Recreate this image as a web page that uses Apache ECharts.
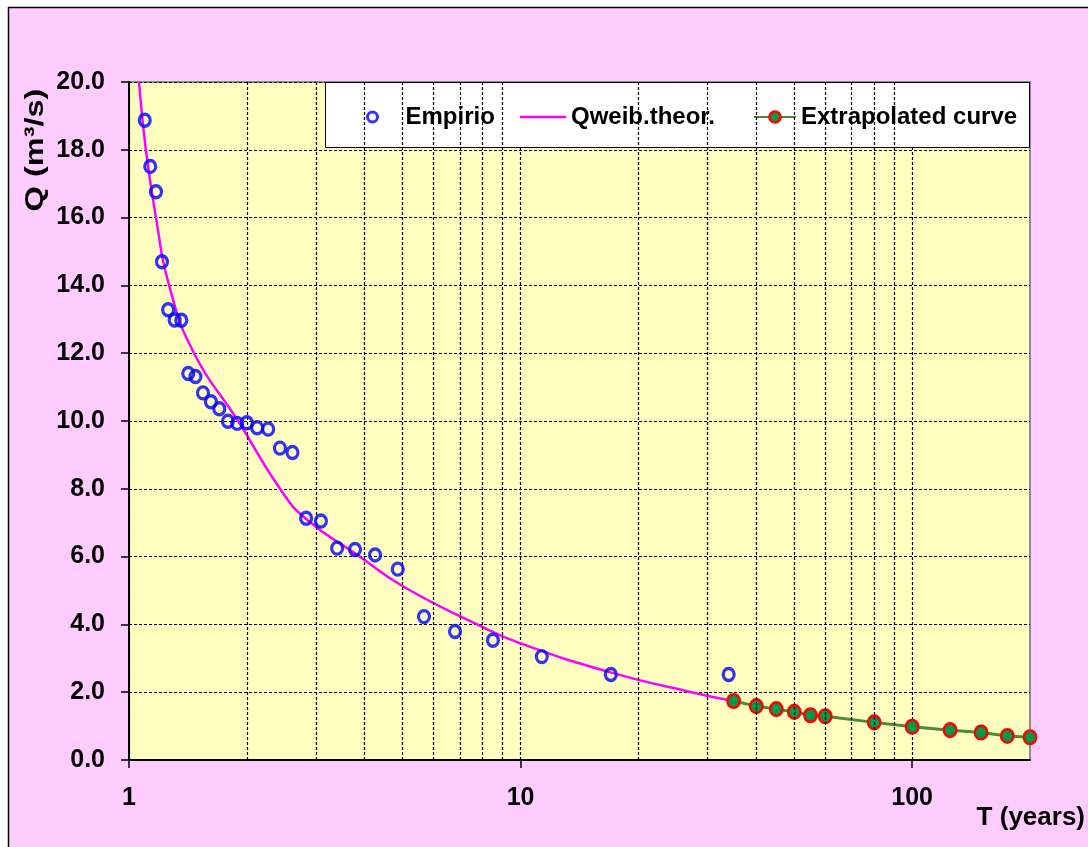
<!DOCTYPE html>
<html>
<head>
<meta charset="utf-8">
<script src="https://cdn.jsdelivr.net/npm/echarts@6/dist/echarts.min.js"></script>
<style>
  html, body { margin: 0; padding: 0; background: #ffffff; }
  #chart { width: 1088px; height: 847px; }
</style>
</head>
<body>
<div id="chart"></div>
<script>
// Empirical return periods (years) and discharges (m3/s)
const empiricalT = [1.097, 1.133, 1.172, 1.214, 1.259, 1.308, 1.36, 1.417, 1.478, 1.545,
                    1.619, 1.7, 1.789, 1.889, 2.0, 2.125, 2.267, 2.429, 2.615, 2.833,
                    3.091, 3.4, 3.778, 4.25, 4.857, 5.667, 6.8, 8.5, 11.33, 17, 34];
const empiricalQ = [18.87, 17.51, 16.76, 14.70, 13.28, 12.98, 12.97, 11.40, 11.31, 10.83,
                    10.57, 10.36, 9.99, 9.93, 9.95, 9.80, 9.76, 9.20, 9.07, 7.13,
                    7.05, 6.25, 6.21, 6.05, 5.63, 4.23, 3.79, 3.53, 3.05, 2.52, 2.52];

// Theoretical Weibull curve
const weibullT = [1.061, 1.103, 1.172, 1.266, 1.466, 1.90, 2.43, 2.84, 3.85,
                  5.03, 7.75, 10, 16.8, 27.3, 35];
const weibullQ = [20.0, 18.04, 16.0, 14.0, 12.0, 10.0, 8.0, 7.1, 6.03,
                  5.11, 4.0, 3.44, 2.6, 2.0, 1.74];

// Extrapolated part of the curve
const extrapT = [35, 40, 45, 50, 55, 60, 80, 100, 125, 150, 175, 200];
const extrapQ = [1.74, 1.59, 1.50, 1.42, 1.32, 1.29, 1.11, 0.98, 0.88, 0.81, 0.71, 0.67];

// Axis ticks and log-scale minor grid positions
const xMajorTicks = [1, 10, 100];
const xMinorGrid = [2, 3, 4, 5, 6, 7, 8, 9, 20, 30, 40, 50, 60, 70, 80, 90];

const FONT = "'Liberation Sans', Arial, sans-serif";
const zip = (xs, ys) => xs.map((x, i) => [x, ys[i]]);
const gridDash = { color: '#000', type: [3, 2], width: 1.2 };
const legendText = { color: '#000', fontSize: 24, fontWeight: 'bold', fontFamily: FONT };

// one legend entry per component so each can be placed in the framed box
function legendEntry(item, left, itemWidth, itemHeight) {
  return {
    left: left, top: 105,
    padding: 0,
    itemGap: 0,
    itemWidth: itemWidth,
    itemHeight: itemHeight,
    selectedMode: false,
    textStyle: legendText,
    data: [item]
  };
}

const chart = echarts.init(document.getElementById('chart'), null, { renderer: 'canvas' });

chart.setOption({
  animation: false,
  backgroundColor: '#FFCCFF',
  grid: {
    left: 129, right: 58, top: 82, bottom: 87,
    show: true,
    backgroundColor: '#FFFFC0',
    borderColor: '#8c8c8c',
    borderWidth: 2
  },
  legend: [
    legendEntry({ name: 'Empirio',
                  itemStyle: { color: 'rgba(0,0,0,0)', borderColor: '#0000FF', borderWidth: 3 } },
                366, 56, 10),
    legendEntry({ name: 'Qweib.theor.', icon: 'path://M0,0H46V2.6H0Z',
                  itemStyle: { color: '#FF00FF', borderWidth: 0 } },
                520, 46, 12),
    legendEntry({ name: 'Extrapolated curve',
                  itemStyle: { color: '#009A48', borderColor: '#FF0000', borderWidth: 2.5 } },
                753, 42, 14)
  ],
  xAxis: {
    type: 'log',
    logBase: 10,
    min: 1,
    max: 200,
    axisLine: { show: true, lineStyle: { color: '#000', width: 2 } },
    axisTick: { show: true, length: 8, inside: false, customValues: xMajorTicks,
                lineStyle: { color: '#000', width: 1.5 } },
    axisLabel: {
      customValues: xMajorTicks,
      margin: 26,
      color: '#000', fontSize: 25, fontWeight: 'bold', fontFamily: FONT,
      formatter: v => (xMajorTicks.indexOf(Math.round(v)) >= 0 ? String(Math.round(v)) : '')
    },
    splitLine: { show: true, lineStyle: gridDash },
    minorTick: { show: false },
    minorSplitLine: { show: false }
  },
  yAxis: {
    type: 'value',
    min: 0,
    max: 20,
    interval: 2,
    axisLine: { show: true, lineStyle: { color: '#000', width: 2 } },
    axisTick: { show: true, length: 8, inside: false, lineStyle: { color: '#000', width: 1.5 } },
    axisLabel: {
      margin: 24,
      color: '#000', fontSize: 25, fontWeight: 'bold', fontFamily: FONT,
      formatter: v => v.toFixed(1)
    },
    splitLine: { show: true, lineStyle: gridDash }
  },
  series: [
    {
      name: 'Qweib.theor.',
      type: 'line',
      data: zip(weibullT, weibullQ),
      showSymbol: false,
      symbol: 'none',
      smooth: 0.5,
      lineStyle: { color: '#FF00FF', width: 2.5 },
      itemStyle: { color: '#FF00FF' },
      z: 2,
      markLine: {
        silent: true,
        symbol: ['none', 'none'],
        label: { show: false },
        lineStyle: gridDash,
        emphasis: { disabled: true },
        data: xMinorGrid.map(v => ({ xAxis: v }))
      }
    },
    {
      name: 'Extrapolated curve',
      type: 'line',
      data: zip(extrapT, extrapQ),
      symbol: 'circle',
      symbolSize: [12.5, 13.5],
      lineStyle: { color: '#4E8A30', width: 3 },
      itemStyle: { color: '#009A48', borderColor: '#FF0000', borderWidth: 2.5 },
      clip: false,
      z: 4
    },
    {
      name: 'Empirio',
      type: 'scatter',
      data: zip(empiricalT, empiricalQ),
      symbol: 'circle',
      symbolSize: [11, 12],
      itemStyle: { color: 'rgba(0,0,0,0)', borderColor: '#0000FF', borderWidth: 3.3 },
      z: 5
    }
  ],
  graphic: [
    // legend frame
    { type: 'rect', z: 3, shape: { x: 325.5, y: 82.5, width: 704, height: 65 },
      style: { fill: '#ffffff', stroke: '#000', lineWidth: 1 }, silent: true },
    // white margin and black frame around the chart area
    { type: 'rect', z: 10, shape: { x: 0, y: 0, width: 8, height: 847 }, style: { fill: '#ffffff' }, silent: true },
    { type: 'rect', z: 10, shape: { x: 0, y: 0, width: 1088, height: 7 }, style: { fill: '#ffffff' }, silent: true },
    { type: 'line', z: 10, shape: { x1: 8.5, y1: 7, x2: 8.5, y2: 847 }, style: { stroke: '#000', lineWidth: 1.5 }, silent: true },
    { type: 'line', z: 10, shape: { x1: 8, y1: 7.5, x2: 1088, y2: 7.5 }, style: { stroke: '#000', lineWidth: 1.5 }, silent: true },
    // axis titles
    {
      type: 'text', z: 10, x: 36, y: 150, rotation: Math.PI / 2, scaleX: 1.25,
      style: { text: 'Q (m³/s)', fill: '#000', font: "bold 26px 'Liberation Sans', Arial, sans-serif",
               textAlign: 'center', textVerticalAlign: 'middle' }
    },
    {
      type: 'text', z: 10, x: 1085, y: 818,
      style: { text: 'T (years)', fill: '#000', font: "bold 26px 'Liberation Sans', Arial, sans-serif",
               textAlign: 'right', textVerticalAlign: 'middle' }
    }
  ]
});
</script>
</body>
</html>
